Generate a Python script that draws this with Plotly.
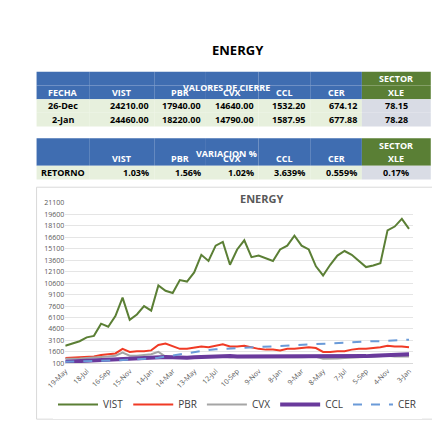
import plotly.graph_objects as go

# datos de la tabla
fechas = ["26-Dec", "2-Jan"]
tickers = ["VIST", "PBR", "CVX", "CCL", "CER"]
cierre_26dec = ["24210.00", "17940.00", "14640.00", "1532.20", "674.12"]
cierre_2jan = ["24460.00", "18220.00", "14790.00", "1587.95", "677.88"]
xle = ["78.15", "78.28"]
retorno = ["1.03%", "1.56%", "1.02%", "3.639%", "0.559%"]
retorno_xle = "0.17%"

# datos del grafico
etiquetas = ["19-May", "18-Jul", "16-Sep", "15-Nov", "14-Jan", "14-Mar", "13-May", "12-Jul",
             "10-Sep", "9-Nov", "8-Jan", "9-Mar", "8-May", "7-Jul", "5-Sep", "4-Nov", "3-Jan"]
vist = [2400,2700,3000,3500,3700,5300,4900,6300,8700,5800,6500,7600,7000,10300,9600,9300,11000,10800,12000,14300,
        13500,15500,16000,13000,15000,16200,14000,14200,13900,13500,15000,15500,16800,15500,15000,12800,11600,13000,14200,14800,
        14300,13500,12700,12900,13200,17500,18000,19000,17700]
pbr = [800,850,900,950,1000,1200,1300,1400,2000,1600,1700,1700,1800,2500,2700,2300,2000,2000,2100,2300,
       2200,2400,2600,2300,2300,2400,2200,2000,1900,1900,1800,2000,2000,2100,2200,2100,1600,1600,1700,1700,
       1900,2000,2000,2100,2200,2400,2300,2300,2200]
cvx = [700,700,750,800,850,900,1000,1100,1500,1100,1100,1200,1300,1600,1000,900,800,800,850,900,
       1000,1000,1000,900,900,900,900,850,850,850,850,900,900,900,950,950,700,700,750,800,
       850,900,900,1000,1000,1100,1000,1000,1000]
ccl = [300,350,350,400,450,500,600,700,750,700,800,850,850,1000,950,900,850,850,900,950,
       1000,1050,1100,1050,1000,1000,1000,1000,950,950,950,1000,1000,1000,1000,1050,950,950,950,950,
       1000,1050,1050,1100,1150,1200,1250,1250,1300]
cer = [300,320,350,380,400,430,460,500,540,580,620,680,750,850,1000,1150,1300,1450,1600,1750,
       1850,1950,2000,2100,2150,2200,2250,2300,2350,2400,2450,2500,2500,2550,2600,2650,2700,2750,2750,2800,
       2850,2900,2950,3000,3000,3050,3100,3150,3200]

W, H = 440, 423
AZUL, VERDE, CLARO, GRIS = "#3F6DB1", "#5A7F35", "#E7F0DD", "#D9DCE5"

def px(x): return x / W
def py(y): return 1 - y / H

# bordes de columnas de la tabla (px)
bordes = [10, 65, 133, 187, 242, 296, 350, 422]
shapes = []
annotations = []

def celda(c, y0, y1, fill, texto, color="black", align="right"):
    x0, x1 = bordes[c], bordes[c + 1]
    shapes.append(dict(type="rect", xref="paper", yref="paper", x0=px(x0), x1=px(x1), y0=py(y1), y1=py(y0),
                       fillcolor=fill, line_width=0, layer="below"))
    if texto:
        if align == "right":
            xx, xa = px(x1 - 3), "right"
        else:
            xx, xa = px((x0 + x1) / 2), "center"
        annotations.append(dict(text=f"<b>{texto}</b>", x=xx, xanchor=xa, y=py((y0 + y1) / 2), yanchor="middle",
                                xref="paper", yref="paper", showarrow=False,
                                font=dict(family="Open Sans", size=9, color=color)))

# tabla valores de cierre
filas1 = [[""] * 6 + ["SECTOR"], ["FECHA"] + tickers + ["XLE"],
          [fechas[0]] + cierre_26dec + [xle[0]], [fechas[1]] + cierre_2jan + [xle[1]]]
y = 60
for r, fila in enumerate(filas1):
    for c, t in enumerate(fila):
        cab = r < 2
        fill = (VERDE if c == 6 else AZUL) if cab else (GRIS if c == 6 else CLARO)
        al = "center" if (c in (0, 6) or r == 1) else "right"
        celda(c, y, y + 14, fill, t, "white" if cab else "black", al)
    y += 14

# tabla variacion
filas2 = [[""] * 6 + ["SECTOR"], [""] + tickers + ["XLE"], ["RETORNO"] + retorno + [retorno_xle]]
y = 128
for r, fila in enumerate(filas2):
    for c, t in enumerate(fila):
        cab = r < 2
        fill = (VERDE if c == 6 else AZUL) if cab else (GRIS if c == 6 else CLARO)
        al = "center" if (c in (0, 6) or r == 1) else "right"
        celda(c, y, y + 14, fill, t, "white" if cab else "black", al)
    y += 14

fig = go.Figure()
x = list(range(len(vist)))
fig.add_trace(go.Scatter(x=x, y=vist, name="VIST", mode="lines", line=dict(color="#5B7F35", width=2)))
fig.add_trace(go.Scatter(x=x, y=pbr, name="PBR", mode="lines", line=dict(color="#F03A25", width=2)))
fig.add_trace(go.Scatter(x=x, y=cvx, name="CVX", mode="lines", line=dict(color="#A5A5A5", width=2)))
fig.add_trace(go.Scatter(x=x, y=ccl, name="CCL", mode="lines", line=dict(color="#6A3A9C", width=4)))
fig.add_trace(go.Scatter(x=x, y=cer, name="CER", mode="lines", line=dict(color="#6A9AD8", width=2, dash="dash")))

shapes.append(dict(type="rect", xref="paper", yref="paper", x0=px(10), x1=px(425), y0=py(415), y1=py(178),
                   line=dict(color="#D9D9D9", width=1)))
annotations += [
    dict(text="<b>ENERGY</b>", x=0.5, y=py(27), xref="paper", yref="paper", showarrow=False,
         font=dict(size=13, color="black")),
    dict(text="<b>VALORES DE CIERRE</b>", x=px(208), y=py(67), xref="paper", yref="paper", showarrow=False,
         font=dict(size=9, color="white")),
    dict(text="<b>VARIACION %</b>", x=px(208), y=py(135), xref="paper", yref="paper", showarrow=False,
         font=dict(size=9, color="white")),
    dict(text="<b>ENERGY</b>", x=px(245), y=py(190), xref="paper", yref="paper", showarrow=False,
         font=dict(size=11, color="#595959")),
]

fig.update_layout(
    width=W, height=H, margin=dict(l=0, r=0, t=0, b=0),
    paper_bgcolor="white", plot_bgcolor="rgba(0,0,0,0)",
    font=dict(family="Open Sans", size=8, color="#595959"),
    xaxis=dict(domain=[px(40), px(403)], range=[0, 48.5], tickvals=list(range(0, 49, 3)), ticktext=etiquetas,
               tickangle=-45, showgrid=False, zeroline=False, showline=True, linecolor="#D9D9D9", tickfont=dict(size=7)),
    yaxis=dict(domain=[py(358), py(194)], range=[100, 21100], tickvals=list(range(100, 21101, 1500)),
               tickformat="d", gridcolor="#E5E5E5", zeroline=False, tickfont=dict(size=7)),
    legend=dict(orientation="h", x=0.5, xanchor="center", y=py(400), yanchor="middle",
                font=dict(size=10, color="#404040", family="Open Sans"), itemwidth=40),
    showlegend=True,
    shapes=shapes,
    annotations=annotations,
)

fig.write_html("out.html", config=dict(displayModeBar=False))
